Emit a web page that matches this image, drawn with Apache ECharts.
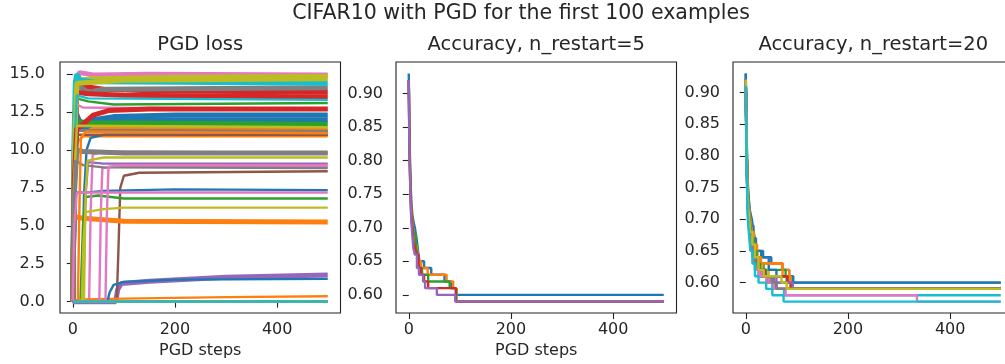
<!DOCTYPE html>
<html>
<head>
<meta charset="utf-8">
<script src="https://cdn.jsdelivr.net/npm/echarts@6/dist/echarts.min.js"></script>
<style>
  html, body { margin: 0; padding: 0; background: #fff; }
  #chart { width: 1005px; height: 364px; }
</style>
</head>
<body>
<div id="chart"></div>
<script>
// tab10 colour cycle, same order matplotlib uses
const palette = ['#1f77b4', '#ff7f0e', '#2ca02c', '#d62728', '#9467bd',
  '#8c564b', '#e377c2', '#7f7f7f', '#bcbd22', '#17becf'];

const stepTicks = [0, 200, 400];
const lossTicks = [0, 2.5, 5, 7.5, 10, 12.5, 15];
const accTicks = [0.60, 0.65, 0.70, 0.75, 0.80, 0.85, 0.90];

// PGD loss per example, [step, loss] key points.
// one array per colour; series i of the plot uses colour i % 10
const zeroLoss = [[0, 0], [499, 0]];

const lossBlue = [
  [[0, 0], [3, 8], [6, 12.5], [12, 12.0], [20, 11.6], [40, 12.0], [80, 12.2], [200, 12.3], [499, 12.3]],
  [[0, 0], [4, 9], [8, 11.8], [20, 11.4], [50, 11.9], [120, 12.0], [499, 12.0]],
  [[0, 0], [18, 0], [22, 7], [27, 10], [35, 10.8], [60, 11.0], [499, 11.0]],
  [[0, 0], [3, 5], [6, 7.2], [30, 7.2], [60, 7.3], [200, 7.4], [499, 7.35]],
  [[0, 0], [68, 0], [72, 0.6], [80, 1.1], [100, 1.3], [200, 1.45], [499, 1.5]],
  zeroLoss, zeroLoss, zeroLoss, zeroLoss, zeroLoss
];
const lossOrange = [
  [[0, 0], [2, 6], [5, 11.2], [10, 11.4], [499, 11.4]],
  [[0, 0], [3, 4], [8, 10.5], [20, 10.9], [499, 10.9]],
  [[0, 0], [1, 3], [3, 5.6], [20, 5.5], [60, 5.4], [100, 5.3], [499, 5.25]],
  [[0, 0], [20, 0.15], [100, 0.2], [300, 0.3], [499, 0.35]],
  [[0, 0], [10, 0], [13, 6], [16, 10.8], [25, 11.2], [499, 11.1]],
  zeroLoss, zeroLoss, zeroLoss, zeroLoss, zeroLoss
];
const lossGreen = [
  [[0, 0], [3, 9], [8, 13.4], [30, 13.2], [80, 13.0], [499, 13.1]],
  [[0, 0], [3, 8], [7, 11.9], [30, 11.8], [499, 11.7]],
  [[0, 0], [15, 0], [20, 5], [25, 6.9], [50, 7.0], [100, 6.8], [499, 6.8]],
  zeroLoss, zeroLoss, zeroLoss, zeroLoss, zeroLoss, zeroLoss, zeroLoss
];
const lossRed = [
  [[0, 0], [3, 10], [8, 14.3], [20, 14.2], [60, 14.0], [150, 13.9], [499, 13.8]],
  [[0, 0], [3, 9], [8, 13.8], [30, 13.7], [100, 13.6], [499, 13.5]],
  [[0, 0], [3, 8], [8, 11.4], [20, 11.7], [40, 12.3], [70, 12.6], [150, 12.7], [499, 12.7]],
  zeroLoss, zeroLoss, zeroLoss, zeroLoss, zeroLoss, zeroLoss, zeroLoss
];
const lossPurple = [
  [[0, 0], [20, 0], [25, 7], [30, 9.2], [60, 9.1], [499, 9.1]],
  [[0, 0], [84, 0], [88, 0.8], [95, 1.2], [150, 1.35], [300, 1.6], [499, 1.75]],
  zeroLoss, zeroLoss, zeroLoss, zeroLoss, zeroLoss, zeroLoss, zeroLoss, zeroLoss
];
const lossBrown = [
  [[0, 0], [3, 8], [8, 11.3], [499, 11.2]],
  [[0, 0], [86, 0], [89, 3], [93, 7.5], [100, 8.3], [130, 8.5], [499, 8.6]],
  [[0, 0], [4, 7], [9, 11.0], [499, 11.0]],
  zeroLoss, zeroLoss, zeroLoss, zeroLoss, zeroLoss, zeroLoss, zeroLoss
];
const lossPink = [
  [[0, 0], [3, 9], [8, 14.8], [13, 15.1], [40, 14.95], [150, 15.0], [499, 14.95]],
  [[0, 0], [3, 9], [8, 13.0], [20, 12.8], [499, 12.65]],
  [[0, 0], [32, 0], [35, 6], [39, 9.7], [60, 9.9], [499, 9.8]],
  [[0, 0], [52, 0], [55, 6], [58, 8.8], [80, 8.9], [499, 8.9]],
  [[0, 0], [64, 0], [67, 6], [70, 8.9], [100, 9.0], [499, 9.0]],
  [[0, 0], [3, 5], [8, 7.2], [499, 7.2]],
  zeroLoss, zeroLoss, zeroLoss, zeroLoss
];
const lossGray = [
  [[0, 0], [3, 10], [8, 14.3], [30, 13.8], [60, 14.0], [499, 14.1]],
  [[0, 0], [3, 8], [8, 11.3], [499, 11.25]],
  [[0, 0], [3, 7], [8, 10.0], [20, 9.9], [100, 9.8], [499, 9.8]],
  [[0, 0], [2, 6], [5, 9.3], [20, 9.0], [60, 8.85], [499, 8.8]],
  zeroLoss, zeroLoss, zeroLoss, zeroLoss, zeroLoss, zeroLoss
];
const lossOlive = [
  [[0, 0], [3, 10], [8, 14.6], [40, 14.7], [200, 14.8], [499, 14.85]],
  [[0, 0], [3, 10], [8, 14.4], [100, 14.6], [499, 14.7]],
  [[0, 0], [3, 8], [8, 11.6], [499, 11.5]],
  [[0, 0], [22, 0], [25, 7], [29, 9.3], [60, 9.5], [499, 9.5]],
  [[0, 0], [18, 0], [21, 4], [25, 5.9], [60, 6.1], [100, 6.2], [499, 6.2]],
  zeroLoss, zeroLoss, zeroLoss, zeroLoss, zeroLoss
];
const lossCyan = [
  [[0, 0], [2, 10], [5, 14.5], [8, 15.0], [15, 14.6], [40, 14.5], [499, 14.4]],
  [[0, 0], [3, 10], [8, 13.6], [30, 13.4], [499, 13.3]],
  zeroLoss, zeroLoss, zeroLoss, zeroLoss, zeroLoss, zeroLoss, zeroLoss, zeroLoss
];

// accuracy, [step, accuracy] where the value holds from that step on
const acc5 = [
  [[0, 0.93], [1, 0.87], [2, 0.82], [3, 0.78], [4, 0.76], [5, 0.74], [7, 0.72], [9, 0.71], [12, 0.70], [14, 0.69], [16, 0.68], [19, 0.66], [21, 0.65], [30, 0.64], [44, 0.63], [70, 0.62], [83, 0.61], [93, 0.60], [499, 0.60]],
  [[0, 0.92], [1, 0.86], [2, 0.81], [3, 0.77], [4, 0.75], [5, 0.73], [7, 0.71], [10, 0.69], [13, 0.68], [16, 0.67], [19, 0.65], [24, 0.64], [37, 0.63], [74, 0.62], [87, 0.61], [93, 0.59], [499, 0.59]],
  [[0, 0.92], [1, 0.85], [2, 0.80], [3, 0.77], [4, 0.74], [5, 0.72], [7, 0.70], [10, 0.69], [14, 0.67], [17, 0.66], [20, 0.64], [26, 0.63], [38, 0.62], [80, 0.61], [93, 0.59], [499, 0.59]],
  [[0, 0.92], [1, 0.85], [2, 0.80], [3, 0.76], [4, 0.74], [5, 0.72], [7, 0.70], [9, 0.68], [12, 0.67], [15, 0.66], [19, 0.64], [24, 0.63], [30, 0.62], [38, 0.61], [92, 0.59], [499, 0.59]],
  [[0, 0.92], [1, 0.84], [2, 0.79], [3, 0.76], [4, 0.73], [5, 0.71], [7, 0.69], [9, 0.67], [12, 0.66], [16, 0.64], [20, 0.63], [28, 0.62], [32, 0.61], [55, 0.60], [91, 0.59], [499, 0.59]]
];

const acc20 = [
  [[0, 0.93], [1, 0.87], [2, 0.82], [3, 0.78], [4, 0.76], [5, 0.74], [7, 0.72], [9, 0.71], [12, 0.70], [15, 0.68], [18, 0.67], [21, 0.65], [34, 0.64], [50, 0.63], [72, 0.62], [85, 0.61], [93, 0.60], [499, 0.60]],
  [[0, 0.92], [1, 0.86], [2, 0.81], [3, 0.77], [4, 0.75], [5, 0.73], [7, 0.71], [10, 0.69], [13, 0.67], [17, 0.66], [22, 0.64], [28, 0.63], [72, 0.62], [85, 0.60], [92, 0.59], [499, 0.59]],
  [[0, 0.92], [1, 0.85], [2, 0.80], [3, 0.77], [4, 0.74], [6, 0.72], [8, 0.70], [11, 0.68], [15, 0.66], [20, 0.64], [26, 0.63], [35, 0.62], [78, 0.61], [88, 0.59], [499, 0.59]],
  [[0, 0.92], [1, 0.85], [2, 0.80], [3, 0.76], [4, 0.74], [6, 0.71], [8, 0.69], [11, 0.67], [15, 0.65], [20, 0.63], [30, 0.62], [38, 0.61], [88, 0.59], [499, 0.59]],
  [[0, 0.92], [1, 0.84], [2, 0.79], [3, 0.76], [4, 0.73], [6, 0.71], [8, 0.69], [11, 0.67], [15, 0.65], [19, 0.63], [26, 0.62], [33, 0.61], [55, 0.60], [90, 0.59], [499, 0.59]],
  [[0, 0.92], [1, 0.84], [2, 0.79], [3, 0.75], [4, 0.73], [6, 0.70], [9, 0.68], [12, 0.66], [16, 0.64], [22, 0.62], [30, 0.61], [45, 0.60], [55, 0.59], [499, 0.59]],
  [[0, 0.92], [1, 0.84], [2, 0.78], [3, 0.75], [4, 0.72], [6, 0.70], [9, 0.67], [12, 0.65], [16, 0.63], [22, 0.62], [30, 0.61], [45, 0.60], [56, 0.59], [499, 0.59]],
  [[0, 0.92], [1, 0.84], [2, 0.79], [3, 0.75], [4, 0.72], [6, 0.70], [9, 0.67], [13, 0.65], [18, 0.63], [25, 0.62], [35, 0.61], [50, 0.60], [58, 0.59], [499, 0.59]],
  [[0, 0.92], [1, 0.85], [2, 0.80], [3, 0.76], [4, 0.74], [6, 0.71], [9, 0.69], [13, 0.67], [17, 0.65], [23, 0.63], [32, 0.62], [45, 0.61], [85, 0.60], [90, 0.59], [499, 0.59]],
  [[0, 0.91], [1, 0.83], [2, 0.78], [3, 0.74], [4, 0.71], [6, 0.69], [9, 0.66], [13, 0.64], [18, 0.62], [25, 0.61], [40, 0.60], [52, 0.59], [75, 0.58], [499, 0.58]],
  [[0, 0.93], [1, 0.87], [2, 0.82], [3, 0.78], [4, 0.75], [6, 0.73], [8, 0.71], [11, 0.69], [15, 0.67], [20, 0.65], [30, 0.64], [45, 0.62], [60, 0.61], [90, 0.60], [499, 0.60]],
  [[0, 0.92], [1, 0.86], [2, 0.81], [3, 0.77], [4, 0.74], [6, 0.72], [9, 0.70], [12, 0.68], [16, 0.66], [22, 0.64], [30, 0.63], [72, 0.61], [88, 0.59], [499, 0.59]],
  [[0, 0.92], [1, 0.85], [2, 0.80], [3, 0.76], [4, 0.74], [6, 0.71], [9, 0.69], [12, 0.67], [16, 0.65], [21, 0.63], [28, 0.62], [40, 0.61], [80, 0.60], [90, 0.59], [499, 0.59]],
  [[0, 0.92], [1, 0.85], [2, 0.80], [3, 0.76], [4, 0.73], [6, 0.71], [9, 0.68], [12, 0.66], [17, 0.64], [24, 0.62], [38, 0.61], [82, 0.60], [89, 0.59], [499, 0.59]],
  [[0, 0.92], [1, 0.84], [2, 0.79], [3, 0.75], [4, 0.73], [6, 0.70], [9, 0.68], [12, 0.66], [17, 0.64], [24, 0.62], [35, 0.61], [60, 0.60], [92, 0.59], [499, 0.59]],
  [[0, 0.92], [1, 0.84], [2, 0.79], [3, 0.75], [4, 0.72], [6, 0.70], [9, 0.67], [13, 0.65], [18, 0.63], [26, 0.61], [40, 0.60], [60, 0.59], [499, 0.59]],
  [[0, 0.92], [1, 0.83], [2, 0.78], [3, 0.74], [4, 0.72], [6, 0.69], [9, 0.66], [13, 0.64], [18, 0.62], [26, 0.61], [40, 0.60], [55, 0.59], [78, 0.58], [335, 0.57], [499, 0.57]],
  [[0, 0.92], [1, 0.84], [2, 0.78], [3, 0.75], [4, 0.72], [6, 0.70], [9, 0.67], [13, 0.65], [18, 0.63], [25, 0.62], [36, 0.61], [52, 0.60], [60, 0.59], [499, 0.59]],
  [[0, 0.92], [1, 0.85], [2, 0.80], [3, 0.76], [4, 0.73], [6, 0.71], [9, 0.68], [13, 0.66], [18, 0.64], [25, 0.62], [35, 0.61], [70, 0.60], [80, 0.59], [499, 0.59]],
  [[0, 0.91], [1, 0.82], [2, 0.77], [3, 0.73], [4, 0.70], [6, 0.68], [9, 0.65], [13, 0.63], [18, 0.61], [25, 0.60], [40, 0.59], [52, 0.58], [74, 0.57], [499, 0.57]]
];

const lossGroups = [lossBlue, lossOrange, lossGreen, lossRed, lossPurple,
  lossBrown, lossPink, lossGray, lossOlive, lossCyan];
// which curves of each colour are drawn as a wide, noisy band
const noisyLoss = [[0, 1], [0, 2], [1], [0, 1, 2], [1], [], [0], [0, 2], [0, 1], [0]];

const chart = echarts.init(document.getElementById('chart'), null, { renderer: 'canvas' });

const font = 'DejaVu Sans';
const ink = '#262626';
const plotW = 280.5;
const plotH = 251;
const lefts = [60, 396, 733];

const mkGrid = (left) => ({
  left, top: 62, width: plotW, height: plotH,
  show: true, borderColor: '#222', borderWidth: 1.1,
  backgroundColor: 'transparent',
  containLabel: false, outerBoundsMode: 'none'
});

const mkX = (gridIndex, name) => ({
  type: 'value', gridIndex, min: -24.95, max: 523.95,
  name, nameLocation: 'middle', nameGap: 28,
  nameTextStyle: { fontFamily: font, fontSize: 16, color: ink },
  axisLine: { show: false },
  axisTick: { show: true, length: 6, lineStyle: { color: '#222', width: 1.1 }, customValues: stepTicks },
  axisLabel: { fontFamily: font, fontSize: 16, color: ink, margin: 9, customValues: stepTicks },
  splitLine: { show: false }
});

const mkY = (gridIndex, min, max, ticks, digits, margin) => ({
  type: 'value', gridIndex, min, max,
  axisLine: { show: false },
  axisTick: { show: true, length: 6, lineStyle: { color: '#222', width: 1.1 }, customValues: ticks },
  axisLabel: {
    fontFamily: font, fontSize: 16, color: ink, margin,
    customValues: ticks,
    formatter: (v) => Number(v).toFixed(digits)
  },
  splitLine: { show: false }
});

const series = [];
for (let k = 0; k < 10; k++) {
  for (let c = 0; c < 10; c++) {
    series.push({
      type: 'line', xAxisIndex: 0, yAxisIndex: 0,
      data: lossGroups[c][k],
      showSymbol: false, symbol: 'none', silent: true,
      lineStyle: { color: palette[c], width: noisyLoss[c].includes(k) ? 5 : 2.4 }
    });
  }
}
acc5.forEach((d, i) => series.push({
  type: 'line', xAxisIndex: 1, yAxisIndex: 1, data: d, step: 'end',
  showSymbol: false, symbol: 'none', silent: true,
  lineStyle: { color: palette[i % 10], width: 2.4 }
}));
acc20.forEach((d, i) => series.push({
  type: 'line', xAxisIndex: 2, yAxisIndex: 2, data: d, step: 'end',
  showSymbol: false, symbol: 'none', silent: true,
  lineStyle: { color: palette[i % 10], width: 2.4 }
}));

const titleText = (text, x, y, size) => ({
  type: 'text', x, y, silent: true,
  style: {
    text, fill: ink, font: size + 'px "DejaVu Sans"',
    textAlign: 'center', textVerticalAlign: 'middle',
    align: 'center', verticalAlign: 'middle'
  }
});

chart.setOption({
  animation: false,
  backgroundColor: '#fff',
  grid: lefts.map(mkGrid),
  xAxis: [mkX(0, 'PGD steps'), mkX(1, 'PGD steps'), mkX(2, '')],
  yAxis: [
    mkY(0, -0.75, 15.8, lossTicks, 1, 15),
    mkY(1, 0.573, 0.947, accTicks, 2, 13),
    mkY(2, 0.552, 0.948, accTicks, 2, 13)
  ],
  series,
  graphic: [
    titleText('CIFAR10 with PGD for the first 100 examples', 521, 13.5, 20.5),
    titleText('PGD loss', lefts[0] + plotW / 2, 45, 19.5),
    titleText('Accuracy, n_restart=5', lefts[1] + plotW / 2, 45, 19.5),
    titleText('Accuracy, n_restart=20', lefts[2] + plotW / 2, 45, 19.5)
  ]
});
</script>
</body>
</html>
